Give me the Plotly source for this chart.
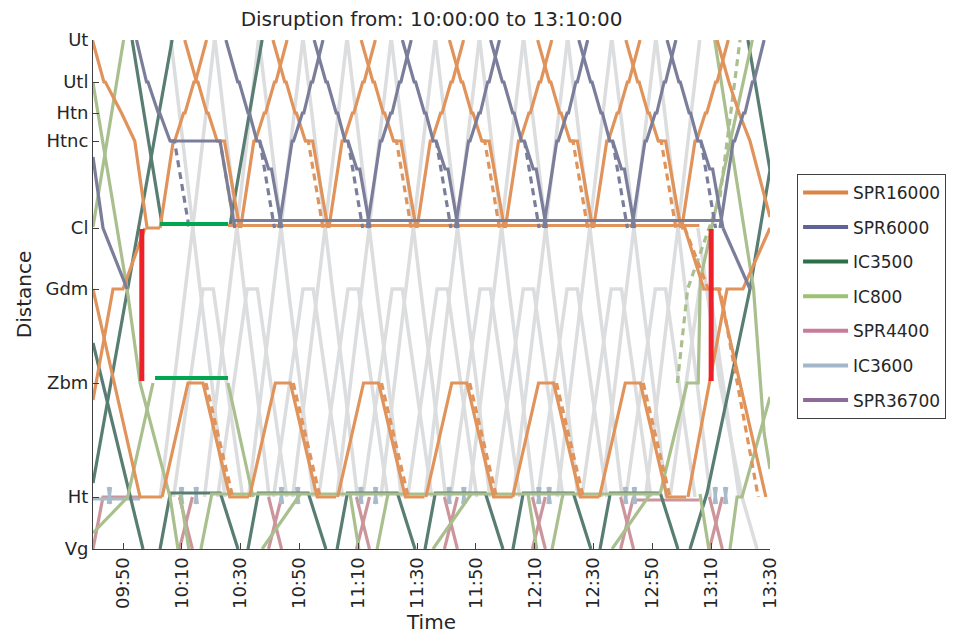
import plotly.graph_objects as go

# stations along the line (distance axis, km-like units)
STATIONS = ["Vg", "Ht", "Zbm", "Gdm", "Cl", "Htnc", "Htn", "Utl", "Ut"]
STATION_KM = [0.0, 5.2, 16.6, 26.0, 32.1, 40.8, 43.6, 46.7, 50.9]

TIME_TICKS = ["09:50", "10:10", "10:30", "10:50", "11:10", "11:30",
              "11:50", "12:10", "12:30", "12:50", "13:10", "13:30"]
X_START, X_END = "09:39.8", "13:30"

# ---- SPR16000 (orange) ----
ORANGE_DOWN_TEMPLATE = [(0, "Ut"), (4.0, "Utl"), (4.5, "Utl"), (7.5, "Htn"), (8.0, "Htn"),
                        (11.0, "Htnc"), (13.5, "Htnc"), (18.7, "Cl")]
ORANGE_DOWN_PLAN = [(11.0, "Htnc"), (12.0, "Htnc"), (17.0, "Cl")]
ORANGE_DOWN_DEPS = ["10:11", "10:41", "11:11", "11:41", "12:11", "12:41"]
ORANGE_UP_TEMPLATE = [(0, "Cl"), (4.5, "Htnc"), (5.0, "Htnc"), (8.0, "Htn"), (8.5, "Htn"),
                      (11.5, "Utl"), (12.0, "Utl"), (15.8, "Ut")]
ORANGE_UP_DEPS = ["10:02.6", "10:30", "11:00", "11:30", "12:00", "12:30", "13:00"]
ORANGE_SHUTTLE_TEMPLATE = [(0, "Ht"), (8.8, "Zbm"), (13.9, "Zbm"), (23.0, "Ht"), (29.5, "Ht")]
ORANGE_SHUTTLE_PLAN = [(14.9, "Zbm"), (24.0, "Ht")]
ORANGE_SHUTTLE_DEPS = ["10:03.3", "10:33", "11:03", "11:33", "12:02.5", "12:32"]
ORANGE_EXTRA = [
    [("09:39.6", "Ut"), ("09:43.5", "Utl"), ("09:44", "Utl"), ("09:49.5", "Htn"),
     ("09:54", "Htnc"), ("09:58.2", "Cl"), ("10:02.6", "Cl")],
    [("09:39.8", 14.9), ("09:46.6", "Gdm"), ("09:50", "Gdm"), ("09:57.5", "Cl")],
    [("09:39.8", "Gdm"), ("09:55.8", "Ht"), ("10:03.3", "Ht")],
    [("12:59.7", "Cl"), ("13:01", "Cl"), ("13:07.5", "Gdm"), ("13:12.5", "Gdm"), ("13:28.6", "Ht")],
    [("13:02.1", "Ht"), ("13:15.4", "Gdm"), ("13:20.8", "Gdm"), ("13:30", "Cl")],
    [("13:12", "Ut"), ("13:16", "Utl"), ("13:19.5", "Htn"), ("13:23.2", "Htnc"), ("13:30", 33.2)],
]
ORANGE_EXTRA_PLAN = [[("13:01", "Cl"), ("13:09", "Gdm"), ("13:13", "Gdm"), ("13:26", "Ht")]]
ORANGE_CL_WAIT = [("10:25.7", 32.35), ("13:06", 32.35)]

# ---- SPR6000 (slate) ----
SLATE_DOWN_TEMPLATE = [(0, "Ut"), (4.0, "Utl"), (4.5, "Utl"), (7.5, "Htn"), (8.0, "Htn"),
                       (10.5, "Htnc"), (11.5, "Htnc"), (14.5, 38.0), (15.5, 38.0), (19.0, "Cl")]
SLATE_DOWN_PLAN = [(11.5, "Htnc"), (16.5, "Cl")]
SLATE_DOWN_DEPS = ["10:25", "10:55", "11:25", "11:55", "12:25", "12:55"]
SLATE_UP_TEMPLATE = [(0, "Cl"), (4.5, "Htnc"), (5.0, "Htnc"), (8.0, "Htn"), (8.5, "Htn"),
                     (11.0, "Utl"), (11.5, "Utl"), (15.0, "Ut")]
SLATE_UP_DEPS = ["10:43", "11:13", "11:43", "12:13", "12:43", "13:13"]
SLATE_EXTRA = [
    [("09:39.8", 39.2), ("09:43.2", "Cl"), ("09:51.4", "Gdm")],
    [("09:54.6", "Ut"), ("09:58", "Utl"), ("09:58.5", "Utl"), ("10:02", "Htn"), ("10:02.5", "Htn"),
     ("10:06", "Htnc"), ("10:23", "Htnc"), ("10:28", "Cl")],
    [("13:14", "Cl"), ("13:23.2", "Gdm")],
]
SLATE_EXTRA_PLAN = [[("10:06", "Htnc"), ("10:07.5", "Htnc"), ("10:12.5", "Cl")]]
SLATE_CL_WAIT = [("10:28", 32.85), ("13:14", 32.85)]

# ---- IC3500 (dark teal) ----
TEAL_SHUTTLE_TEMPLATE = [(0, "Vg"), (3.5, 5.6), (20.5, 5.6), (26.5, "Vg")]
TEAL_SHUTTLE_DEPS = ["10:02.6", "10:32.5", "11:02.8", "11:32.7", "12:02.6", "12:32.2"]
TEAL_EXTRA = [
    [("09:39.8", 20.6), ("09:56.8", "Vg")],
    [("09:39.8", 6.6), ("10:06.7", "Ut")],
    [("09:53.1", "Ut"), ("10:03.3", 32.4)],
    [("10:26.4", 32.4), ("10:37.3", "Ut")],
    [("13:02.8", "Vg"), ("13:08.6", 5.6), ("13:23.2", "Gdm"), ("13:30", 37.9)],
    [("13:22.5", "Ut"), ("13:30", 37.9)],
]

# ---- IC800 (light green) ----
LG_DOWN_TEMPLATE = [(0, 5.5), (3.0, "Vg")]
LG_DOWN_DEPS = ["10:09.4", "11:07.2", "12:07.7", "13:06.2"]
LG_UP_TEMPLATE = [(0, "Vg"), (3.7, 5.5)]
LG_UP_DEPS = ["10:16.5", "11:16.4", "12:15.9"]
LG_SLOW_TEMPLATE = [(0, "Vg"), (13.0, 5.5)]
LG_SLOW_DEPS = ["10:37.3", "11:35.4", "12:36.3"]
LG_EXTRA = [
    [("09:39.8", 32.2), ("09:50.2", "Ut")],
    [("09:39.8", 46.6), ("09:51.4", "Gdm"), ("09:55.8", "Zbm"), ("10:06", "Ht"), ("10:08.7", "Vg")],
    [("09:39.8", 1.6), ("09:51.6", "Ht"), ("10:00.2", "Zbm")],
    [("10:25.7", "Zbm"), ("10:34.2", "Ht")],
    [("10:19.6", 5.5), ("12:52.6", 5.5)],
    [("12:52.6", 5.5), ("13:01.8", "Zbm"), ("13:05.6", "Zbm"), ("13:06.3", 26.9), ("13:24", "Ut")],
    [("13:11.2", "Ut"), ("13:24.4", "Gdm"), ("13:28", 11.6), ("13:30", 8.0)],
    [("13:16.4", "Vg"), ("13:18.8", "Ht"), ("13:20.5", "Ht"), ("13:30", 15.2)],
]
LG_PLAN = [[("12:58.5", "Zbm"), ("13:02", "Gdm"), ("13:13", 35.2), ("13:19.8", "Ut")]]

# ---- SPR4400 (pink) ----
PINK_DOWN_TEMPLATE = [(0, "Ht"), (4.4, "Vg")]
PINK_UP_TEMPLATE = [(0, "Vg"), (4.4, "Ht")]
PINK_DEPS = ["10:09.2", "10:39.5", "11:09.4", "11:39.3", "12:09.2", "12:39.2", "13:09.4"]
PINK_EXTRA = [
    [("09:39.8", "Vg"), ("09:43.2", "Ht"), ("09:56", "Ht")],
    [("12:43.6", 4.9), ("13:06", 4.9)],
]

# ---- IC3600 (light blue) ----
BLUE_MARK_A = [(0, 6.2), (0.8, 4.5)]
BLUE_MARK_B = [(0, 4.5), (0.8, 6.2)]
BLUE_TIMES = ["09:45", "10:09.5", "10:14.5", "10:43.5", "10:49", "11:10.5", "11:15.5",
              "11:40.5", "11:45.5", "12:11", "12:14.5", "12:40.5", "12:43.5", "13:11", "13:14.5"]
BLUE_EXTRA = [[("09:39.8", 5.0), ("09:55.8", 5.0)]]

# ---- planned / cancelled (grey) ----
GREY_IC_DOWN = [(-7.4, "Ut"), (0, "Cl"), (2.5, "Gdm"), (6.5, "Zbm"), (11.0, "Ht")]
GREY_IC_UP = [(-11.0, "Ht"), (-6.5, "Zbm"), (-2.5, "Gdm"), (0, "Cl"), (7.4, "Ut")]
GREY_CL_TIMES = ["10:13.7", "10:28.7", "10:43.7", "10:58.7", "11:13.7", "11:28.7",
                 "11:43.7", "11:58.7", "12:13.7", "12:28.7", "12:43.7", "12:58.7"]
GREY_TURN = [(-10.0, "Ht"), (0, "Gdm"), (3.5, "Gdm"), (13.5, "Ht")]
GREY_TURN_TIMES = ["10:17.2", "10:32.2", "10:51.2", "11:06.5", "11:21.5", "11:36.8",
                   "11:51.4", "12:06.1", "12:21", "12:36", "12:51", "13:06"]
GREY_EXTRA = [[("13:05.5", "Cl"), ("13:13", "Zbm"), ("13:20.5", "Ht"), ("13:25.6", "Vg")]]

# ---- disruption markers ----
GREEN_STARTS = ["10:02.6", "10:00.9"]
GREEN_ENDS = ["10:25.7", "10:25.7"]
GREEN_KM = [32.5, 17.1]
RED_TIMES = ["09:56.4", "13:10"]
RED_TOP, RED_BOTTOM = 32.0, 16.8

LEGEND_NAMES = ["SPR16000", "SPR6000", "IC3500", "IC800", "SPR4400", "IC3600", "SPR36700"]
LEGEND_COLORS = ["#D98548", "#5F6396", "#2B7049", "#9CC171", "#C77C9C", "#A3B6CA", "#8E6A9A"]

KM = dict(zip(STATIONS, STATION_KM))


def tmin(s):
    h, m = s.split(":")
    return int(h) * 60 + float(m)


def km(p):
    return KM[p] if isinstance(p, str) else p


def from_template(template, deps):
    out = []
    for d in deps:
        t0 = tmin(d)
        out.append([(t0 + off, s) for off, s in template])
    return out


def fixed(paths):
    return [[(tmin(t), s) for t, s in p] for p in paths]


def add_paths(fig, paths, color, width=3.2, dash="solid"):
    xs, ys = [], []
    for p in paths:
        for t, s in p:
            xs.append(t)
            ys.append(km(s))
        xs.append(None)
        ys.append(None)
    fig.add_trace(go.Scatter(x=xs, y=ys, mode="lines", showlegend=False, hoverinfo="skip",
                             line=dict(color=color, width=width, dash=dash)))


DASH = "7px,5px"
GREY = "#DCDDDF"
ORANGE = "#E0935A"
SLATE = "#7A7E9A"
TEAL = "#587D72"
LGREEN = "#A9BF8E"
PINK = "#CB959B"
LBLUE = "#A9BBCB"

fig = go.Figure()

# grey planned trains underneath
add_paths(fig, from_template(GREY_IC_DOWN, GREY_CL_TIMES) + from_template(GREY_IC_UP, GREY_CL_TIMES)
          + from_template(GREY_TURN, GREY_TURN_TIMES) + fixed(GREY_EXTRA), GREY, 3.5)

# lower section trains
add_paths(fig, from_template(PINK_DOWN_TEMPLATE, PINK_DEPS) + from_template(PINK_UP_TEMPLATE, PINK_DEPS)
          + fixed(PINK_EXTRA), PINK)
add_paths(fig, from_template(BLUE_MARK_A, BLUE_TIMES) + from_template(BLUE_MARK_B, BLUE_TIMES)
          + fixed(BLUE_EXTRA), LBLUE)
add_paths(fig, from_template(TEAL_SHUTTLE_TEMPLATE, TEAL_SHUTTLE_DEPS) + fixed(TEAL_EXTRA), TEAL)
add_paths(fig, from_template(LG_DOWN_TEMPLATE, LG_DOWN_DEPS) + from_template(LG_UP_TEMPLATE, LG_UP_DEPS)
          + from_template(LG_SLOW_TEMPLATE, LG_SLOW_DEPS) + fixed(LG_EXTRA), LGREEN)
add_paths(fig, fixed(LG_PLAN), LGREEN, dash=DASH)

# orange
add_paths(fig, from_template(ORANGE_DOWN_PLAN, ORANGE_DOWN_DEPS)
          + from_template(ORANGE_SHUTTLE_PLAN, ORANGE_SHUTTLE_DEPS) + fixed(ORANGE_EXTRA_PLAN),
          ORANGE, dash=DASH)
add_paths(fig, from_template(ORANGE_DOWN_TEMPLATE, ORANGE_DOWN_DEPS)
          + from_template(ORANGE_UP_TEMPLATE, ORANGE_UP_DEPS)
          + from_template(ORANGE_SHUTTLE_TEMPLATE, ORANGE_SHUTTLE_DEPS)
          + fixed(ORANGE_EXTRA) + fixed([ORANGE_CL_WAIT]), ORANGE)

# slate
add_paths(fig, from_template(SLATE_DOWN_PLAN, SLATE_DOWN_DEPS) + fixed(SLATE_EXTRA_PLAN), SLATE, dash=DASH)
add_paths(fig, from_template(SLATE_DOWN_TEMPLATE, SLATE_DOWN_DEPS)
          + from_template(SLATE_UP_TEMPLATE, SLATE_UP_DEPS)
          + fixed(SLATE_EXTRA) + fixed([SLATE_CL_WAIT]), SLATE)

# disruption markers
add_paths(fig, [[(tmin(a), k), (tmin(b), k)] for a, b, k in zip(GREEN_STARTS, GREEN_ENDS, GREEN_KM)],
          "#00A650", 4)
add_paths(fig, [[(tmin(t), RED_TOP), (tmin(t), RED_BOTTOM)] for t in RED_TIMES], "#EE2029", 5)

# legend entries
for name, color in zip(LEGEND_NAMES, LEGEND_COLORS):
    fig.add_trace(go.Scatter(x=[None], y=[None], mode="lines", name=name, legendgroup=name,
                             line=dict(color=color, width=4)))

# the page adds an 8px body margin, so the figure is drawn 8px smaller / shifted
FONT = "DejaVu Sans"
fig.update_layout(
    width=953, height=635,
    margin=dict(l=85, r=191, t=32, b=94),
    plot_bgcolor="white", paper_bgcolor="white",
    font=dict(family=FONT, color="#262626"),
    title=dict(text="Disruption from: 10:00:00 to 13:10:00", x=(431.5 - 8) / 953, xanchor="center",
               y=1 - 4 / 635, yanchor="top", font=dict(size=20, color="#262626")),
    legend=dict(x=1.04, y=0.737, xanchor="left", yanchor="top", bgcolor="white",
                bordercolor="#404040", borderwidth=1, font=dict(size=17, color="#262626"),
                tracegroupgap=9.5, itemwidth=45),
)
fig.update_xaxes(range=[tmin(X_START), tmin(X_END)],
                 tickvals=[tmin(t) for t in TIME_TICKS], ticktext=TIME_TICKS,
                 tickangle=-90, ticks="inside", ticklen=6, tickcolor="#404040",
                 showline=True, linecolor="#404040", linewidth=1, showgrid=False, zeroline=False,
                 tickfont=dict(size=18), title=dict(text="Time", font=dict(size=20), standoff=6))
fig.update_yaxes(range=[0, STATION_KM[-1]], tickvals=STATION_KM, ticktext=STATIONS,
                 ticks="inside", ticklen=6, tickcolor="#404040",
                 showline=True, linecolor="#404040", linewidth=1, showgrid=False, zeroline=False,
                 tickfont=dict(size=18), title=dict(text="Distance", font=dict(size=20), standoff=8))

fig.write_html("out.html")
